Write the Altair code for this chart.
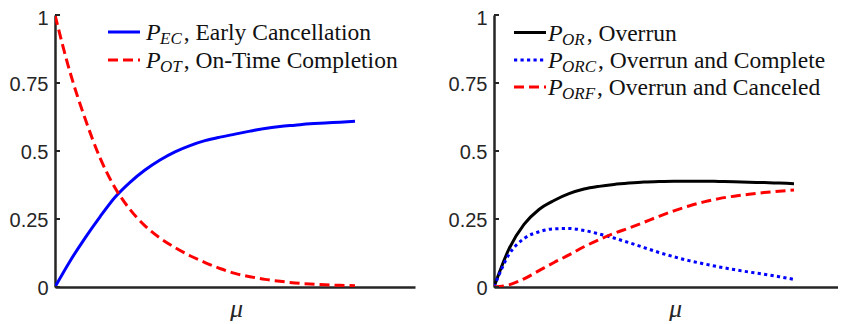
import altair as alt
import pandas as pd

# ---------------- data ----------------
mu = [0.0, 0.05, 0.1, 0.15, 0.2, 0.25, 0.3, 0.35, 0.4, 0.45, 0.5,
      0.55, 0.6, 0.65, 0.7, 0.75, 0.8, 0.85, 0.9, 0.95, 1.0]

p_ec = [0.0, 0.095, 0.18, 0.258, 0.33, 0.385, 0.43, 0.467, 0.497, 0.52, 0.538,
        0.551, 0.562, 0.573, 0.583, 0.59, 0.595, 0.6, 0.603, 0.606, 0.609]
p_ot = [1.0, 0.79, 0.62, 0.475, 0.365, 0.285, 0.225, 0.18, 0.145, 0.115, 0.09,
        0.068, 0.05, 0.038, 0.028, 0.021, 0.015, 0.011, 0.008, 0.006, 0.005]

p_or = [0.0, 0.14, 0.23, 0.285, 0.318, 0.343, 0.36, 0.37, 0.377, 0.382, 0.386,
        0.388, 0.389, 0.389, 0.389, 0.388, 0.387, 0.385, 0.384, 0.382, 0.380]
p_orc = [0.0, 0.12, 0.178, 0.203, 0.214, 0.215, 0.208, 0.195, 0.18, 0.163, 0.145,
         0.127, 0.111, 0.097, 0.085, 0.074, 0.064, 0.055, 0.047, 0.038, 0.028]
p_orf = [0.0, 0.008, 0.03, 0.06, 0.09, 0.118, 0.148, 0.174, 0.197, 0.217, 0.238,
         0.26, 0.28, 0.298, 0.313, 0.325, 0.334, 0.341, 0.347, 0.352, 0.357]

y_ticks = [0, 0.25, 0.5, 0.75, 1]

left_subs = ["EC", "OT"]
left_texts = [", Early Cancellation", ", On-Time Completion"]
right_subs = ["OR", "ORC", "ORF"]
right_texts = [", Overrun", ", Overrun and Complete", ", Overrun and Canceled"]

# ---------------- style ----------------
AX = "#262626"
TXT = "#111111"
BLUE = "#0000ff"
RED = "#ff0000"
BLACK = "#000000"
DASH = [10, 5]
DOT = [3.2, 3.3]
H = 272

df_left = pd.DataFrame({"mu": mu, "p_ec": p_ec, "p_ot": p_ot})
df_right = pd.DataFrame({"mu": mu, "p_or": p_or, "p_orc": p_orc, "p_orf": p_orf})
df_ticks = pd.DataFrame({"v": y_ticks})

y_scale = alt.Scale(domain=[0, 1], nice=False, zero=False)
y_axis = alt.Axis(values=y_ticks, format=".2~f", title=None, grid=False, ticks=False,
                  labelFont="Liberation Sans", labelFontSize=20, labelColor=AX,
                  labelPadding=7,
                  labelOffset=alt.condition("datum.value == 1", alt.value(3), alt.value(1)),
                  domainColor=AX, domainWidth=2.5)


def x_axis():
    return alt.Axis(title="μ", labels=False, ticks=False, grid=False,
                    domainColor=AX, domainWidth=2.5,
                    titleFont="Liberation Serif", titleFontStyle="italic",
                    titleFontWeight="normal", titleFontSize=26, titleColor=AX,
                    titlePadding=8, titleX=181)


def series(df, col, color, xmax, dash=None):
    kw = dict(color=color, strokeWidth=3, interpolate="monotone", clip=True)
    if dash is not None:
        kw["strokeDash"] = dash
    return alt.Chart(df).mark_line(**kw).encode(
        x=alt.X("mu:Q", scale=alt.Scale(domain=[0, xmax], nice=False, zero=False), axis=x_axis()),
        y=alt.Y(f"{col}:Q", scale=y_scale, axis=y_axis),
    )


def inner_ticks():
    return alt.Chart(df_ticks).mark_rule(color=AX, strokeWidth=2).encode(
        y=alt.Y("v:Q", scale=y_scale, axis=y_axis),
        x=alt.value(0), x2=alt.value(5),
    )


SUB_W = {"E": 0.611, "C": 0.667, "O": 0.722, "T": 0.556, "R": 0.611, "F": 0.611}
SUB_SIZE = 17


def legend_entry(color, dash, sub, text, x_line, y_row, x_p):
    kw = dict(color=color, strokeWidth=3)
    if dash is not None:
        kw["strokeDash"] = dash
    x_sub = x_p + 14
    x_rest = x_sub + sum(SUB_W[c] for c in sub) * SUB_SIZE + 2
    one = pd.DataFrame({"sub": [sub], "text": [text]})
    line = alt.Chart(one).mark_rule(**kw).encode(
        x=alt.value(x_line[0]), x2=alt.value(x_line[1]), y=alt.value(y_row))
    p = alt.Chart(one).mark_text(font="Liberation Serif", fontStyle="italic", fontSize=24,
                                 align="left", baseline="alphabetic", color=TXT).encode(
        x=alt.value(x_p), y=alt.value(y_row + 8), text=alt.value("P"))
    s = alt.Chart(one).mark_text(font="Liberation Serif", fontStyle="italic", fontSize=SUB_SIZE,
                                 align="left", baseline="alphabetic", color=TXT).encode(
        x=alt.value(x_sub), y=alt.value(y_row + 12), text="sub:N")
    t = alt.Chart(one).mark_text(font="Liberation Serif", fontSize=23.5,
                                 align="left", baseline="alphabetic", color=TXT).encode(
        x=alt.value(x_rest), y=alt.value(y_row + 8), text="text:N")
    return [line, p, s, t]


# ---------------- left panel ----------------
LW = 360
left_layers = [
    series(df_left, "p_ec", BLUE, 1.2),
    series(df_left, "p_ot", RED, 1.2, DASH),
    inner_ticks(),
]
left_layers += legend_entry(BLUE, None, left_subs[0], left_texts[0], (53, 85), 17, 91)
left_layers += legend_entry(RED, DASH, left_subs[1], left_texts[1], (53, 85), 45, 91)
left = alt.layer(*left_layers).properties(width=LW, height=H)

# ---------------- right panel ----------------
RW = 344
right_layers = [
    series(df_right, "p_or", BLACK, RW / 300),
    series(df_right, "p_orc", BLUE, RW / 300, DOT),
    series(df_right, "p_orf", RED, RW / 300, DASH),
    inner_ticks(),
]
right_layers += legend_entry(BLACK, None, right_subs[0], right_texts[0], (20, 52), 17.5, 54)
right_layers += legend_entry(BLUE, DOT, right_subs[1], right_texts[1], (20, 52), 45, 54)
right_layers += legend_entry(RED, DASH, right_subs[2], right_texts[2], (20, 52), 72, 54)
right = alt.layer(*right_layers).properties(width=RW, height=H)

chart = alt.hconcat(left, right, spacing=33).properties(
    padding={"left": 1, "top": 0, "right": 0, "bottom": 0}
).configure_view(stroke=None)

chart.save("out.html", embed_options={"renderer": "svg", "actions": False})
